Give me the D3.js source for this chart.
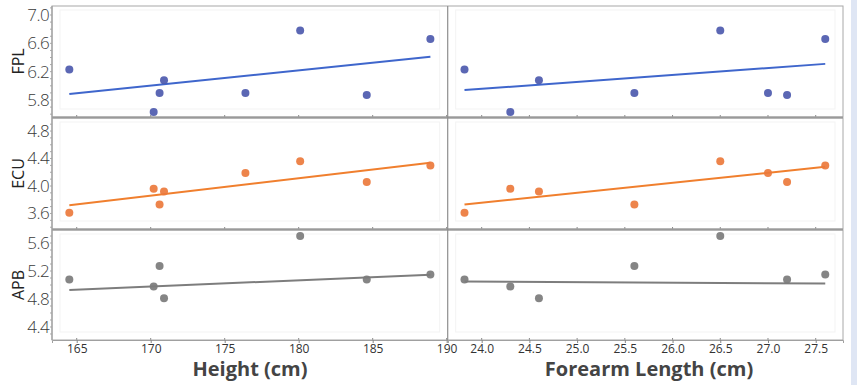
<!DOCTYPE html>
<html><head><meta charset="utf-8">
<script src="https://cdn.jsdelivr.net/npm/d3@7/dist/d3.min.js"></script>
<style>
html,body{margin:0;padding:0;background:#fff;}
svg{display:block;}
.tick-y{font-family:"Open Sans","Segoe UI",sans-serif;font-weight:300;font-size:17px;letter-spacing:-0.6px;fill:#3a3a3a;}
.tick-x{font-family:"Open Sans","Segoe UI",sans-serif;font-size:12px;fill:#333;}
.ylab{font-family:"Open Sans","Segoe UI",sans-serif;font-size:16px;fill:#222;}
.xlab{font-family:"Open Sans","Segoe UI",sans-serif;font-weight:700;font-size:20px;fill:#444;}
</style></head>
<body><svg id="c" width="857" height="385"></svg>
<script>
// ---- data ----
const heightCm  = [164.5, 170.2, 170.6, 170.9, 176.4, 180.1, 184.6, 188.9];
const forearmCm = [23.82, 24.30, 25.60, 24.60, 27.00, 26.50, 27.20, 27.60];
const fpl = [6.23, 5.63, 5.90, 6.08, 5.90, 6.78, 5.87, 6.66];
const ecu = [3.61, 3.96, 3.73, 3.92, 4.19, 4.36, 4.06, 4.30];
const apb = [5.08, 4.98, 5.27, 4.81, null, 5.70, 5.08, 5.15];

const muscles = ["FPL", "ECU", "APB"];
const fplTicks = [5.8, 6.2, 6.6, 7.0];
const ecuTicks = [3.6, 4.0, 4.4, 4.8];
const apbTicks = [4.4, 4.8, 5.2, 5.6];
const heightTicks = [165, 170, 175, 180, 185, 190];
const forearmTicks = [24.0, 24.5, 25.0, 25.5, 26.0, 26.5, 27.0, 27.5];

// fitted lines (start/end values), order FPL, ECU, APB
const fitHeightX = [164.5, 188.9];
const fitHeightStart = [5.885, 3.72, 4.93];
const fitHeightEnd   = [6.41, 4.34, 5.145];
const fitForearmX = [23.82, 27.6];
const fitForearmStart = [5.94, 3.73, 5.05];
const fitForearmEnd   = [6.31, 4.28, 5.02];

const pointColors = ["#4d5aae", "#ec7a3c", "#7b7b7b"];
const lineColors  = ["#3f66cc", "#f07f2e", "#7d7d7d"];

// ---- layout ----
const svg = d3.select("#c");
const L = 52, M = 447.7, R = 843;
const rows = [[6, 117], [118, 229], [230, 340]];
const yDomains = [[5.56, 7.127], [3.374, 4.99], [4.214, 5.786]];
const yTicks = [fplTicks, ecuTicks, apbTicks];
const values = [fpl, ecu, apb];

const xH = d3.scaleLinear().domain([163.33, 190.07]).range([L, M]);
const xF = d3.scaleLinear().domain([23.644, 27.786]).range([M, R]);

// right light strip
svg.append("rect").attr("x", 851).attr("y", 0).attr("width", 6).attr("height", 385).attr("fill", "#dfe6f4");

rows.forEach((r, i) => {
  const y = d3.scaleLinear().domain(yDomains[i]).range([r[1], r[0]]);
  const g = svg.append("g");
  [[L, M], [M, R]].forEach(([a, b]) => {
    g.append("rect").attr("x", a).attr("y", r[0]).attr("width", b - a).attr("height", r[1] - r[0]).attr("fill", "#fff");
    g.append("rect").attr("x", a + 8).attr("y", r[0] + 4).attr("width", b - a - 16).attr("height", r[1] - r[0] - 12)
      .attr("fill", "none").attr("stroke", "#f3f3f3").attr("stroke-width", 1);
  });
  const ya = d3.axisLeft(y).tickValues(yTicks[i]).tickSize(0).tickPadding(3).tickFormat(d3.format(".1f"));
  const yg = g.append("g").attr("transform", `translate(${L},0)`).call(ya);
  yg.select(".domain").remove();
  yg.selectAll("text").attr("class", "tick-y").attr("font-family", null).attr("font-size", null).attr("fill", null);
  const minor = d3.range(Math.ceil(yDomains[i][0] * 10), Math.floor(yDomains[i][1] * 10) + 1).map(v => v / 10);
  g.selectAll(".mt").data(minor).enter().append("line")
    .attr("x1", L - 2).attr("x2", L).attr("y1", d => y(d)).attr("y2", d => y(d)).attr("stroke", "#aaa");
  g.append("text").attr("class", "ylab").attr("transform", `translate(24,${(r[0] + r[1]) / 2}) rotate(-90)`)
    .attr("text-anchor", "middle").text(muscles[i]);

  g.selectAll(".xtH").data(heightTicks).enter().append("line")
    .attr("x1", d => xH(d)).attr("x2", d => xH(d)).attr("y1", r[1]).attr("y2", r[1] - 2).attr("stroke", "#888");
  g.selectAll(".xtF").data(forearmTicks).enter().append("line")
    .attr("x1", d => xF(d)).attr("x2", d => xF(d)).attr("y1", r[1]).attr("y2", r[1] - 2).attr("stroke", "#888");

  g.append("line").attr("x1", xH(fitHeightX[0])).attr("x2", xH(fitHeightX[1]))
    .attr("y1", y(fitHeightStart[i])).attr("y2", y(fitHeightEnd[i]))
    .attr("stroke", lineColors[i]).attr("stroke-width", 2);
  g.append("line").attr("x1", xF(fitForearmX[0])).attr("x2", xF(fitForearmX[1]))
    .attr("y1", y(fitForearmStart[i])).attr("y2", y(fitForearmEnd[i]))
    .attr("stroke", lineColors[i]).attr("stroke-width", 2);

  const pts = values[i].map((v, k) => ({v, h: heightCm[k], f: forearmCm[k]})).filter(d => d.v != null);
  g.selectAll(".ph").data(pts).enter().append("circle")
    .attr("cx", d => xH(d.h)).attr("cy", d => y(d.v)).attr("r", 4).attr("fill", pointColors[i]).attr("opacity", 0.92);
  g.selectAll(".pf").data(pts).enter().append("circle")
    .attr("cx", d => xF(d.f)).attr("cy", d => y(d.v)).attr("r", 4).attr("fill", pointColors[i]).attr("opacity", 0.92);

  g.append("rect").attr("x", L).attr("y", r[0]).attr("width", R - L).attr("height", r[1] - r[0])
    .attr("fill", "none").attr("stroke", "#a8a8a8").attr("stroke-width", 1);
});
[117.5, 229.5].forEach(yy => {
  svg.append("line").attr("x1", L).attr("x2", R).attr("y1", yy).attr("y2", yy).attr("stroke", "#9a9a9a").attr("stroke-width", 2);
});
svg.append("line").attr("x1", M).attr("x2", M).attr("y1", 6).attr("y2", 341).attr("stroke", "#8e8e8e").attr("stroke-width", 1.2);
svg.append("line").attr("x1", L).attr("x2", L).attr("y1", 6).attr("y2", 340).attr("stroke", "#a0a0a0").attr("stroke-width", 1.2);

const xaH = d3.axisBottom(xH).tickValues(heightTicks).tickSize(3).tickPadding(1).tickFormat(d3.format("d"));
const xaF = d3.axisBottom(xF).tickValues(forearmTicks).tickSize(3).tickPadding(1).tickFormat(d3.format(".1f"));
[xaH, xaF].forEach(ax => {
  const gg = svg.append("g").attr("transform", "translate(0,340)").call(ax);
  gg.select(".domain").attr("stroke", "#a0a0a0");
  gg.selectAll(".tick line").attr("stroke", "#888");
  gg.selectAll("text").attr("class", "tick-x").attr("font-family", null).attr("font-size", null).attr("fill", null);
});
svg.append("text").attr("class", "xlab").attr("x", 250).attr("y", 376).attr("text-anchor", "middle").text("Height (cm)");
svg.append("text").attr("class", "xlab").attr("x", 649).attr("y", 376).attr("text-anchor", "middle").text("Forearm Length (cm)");
</script></body></html>
